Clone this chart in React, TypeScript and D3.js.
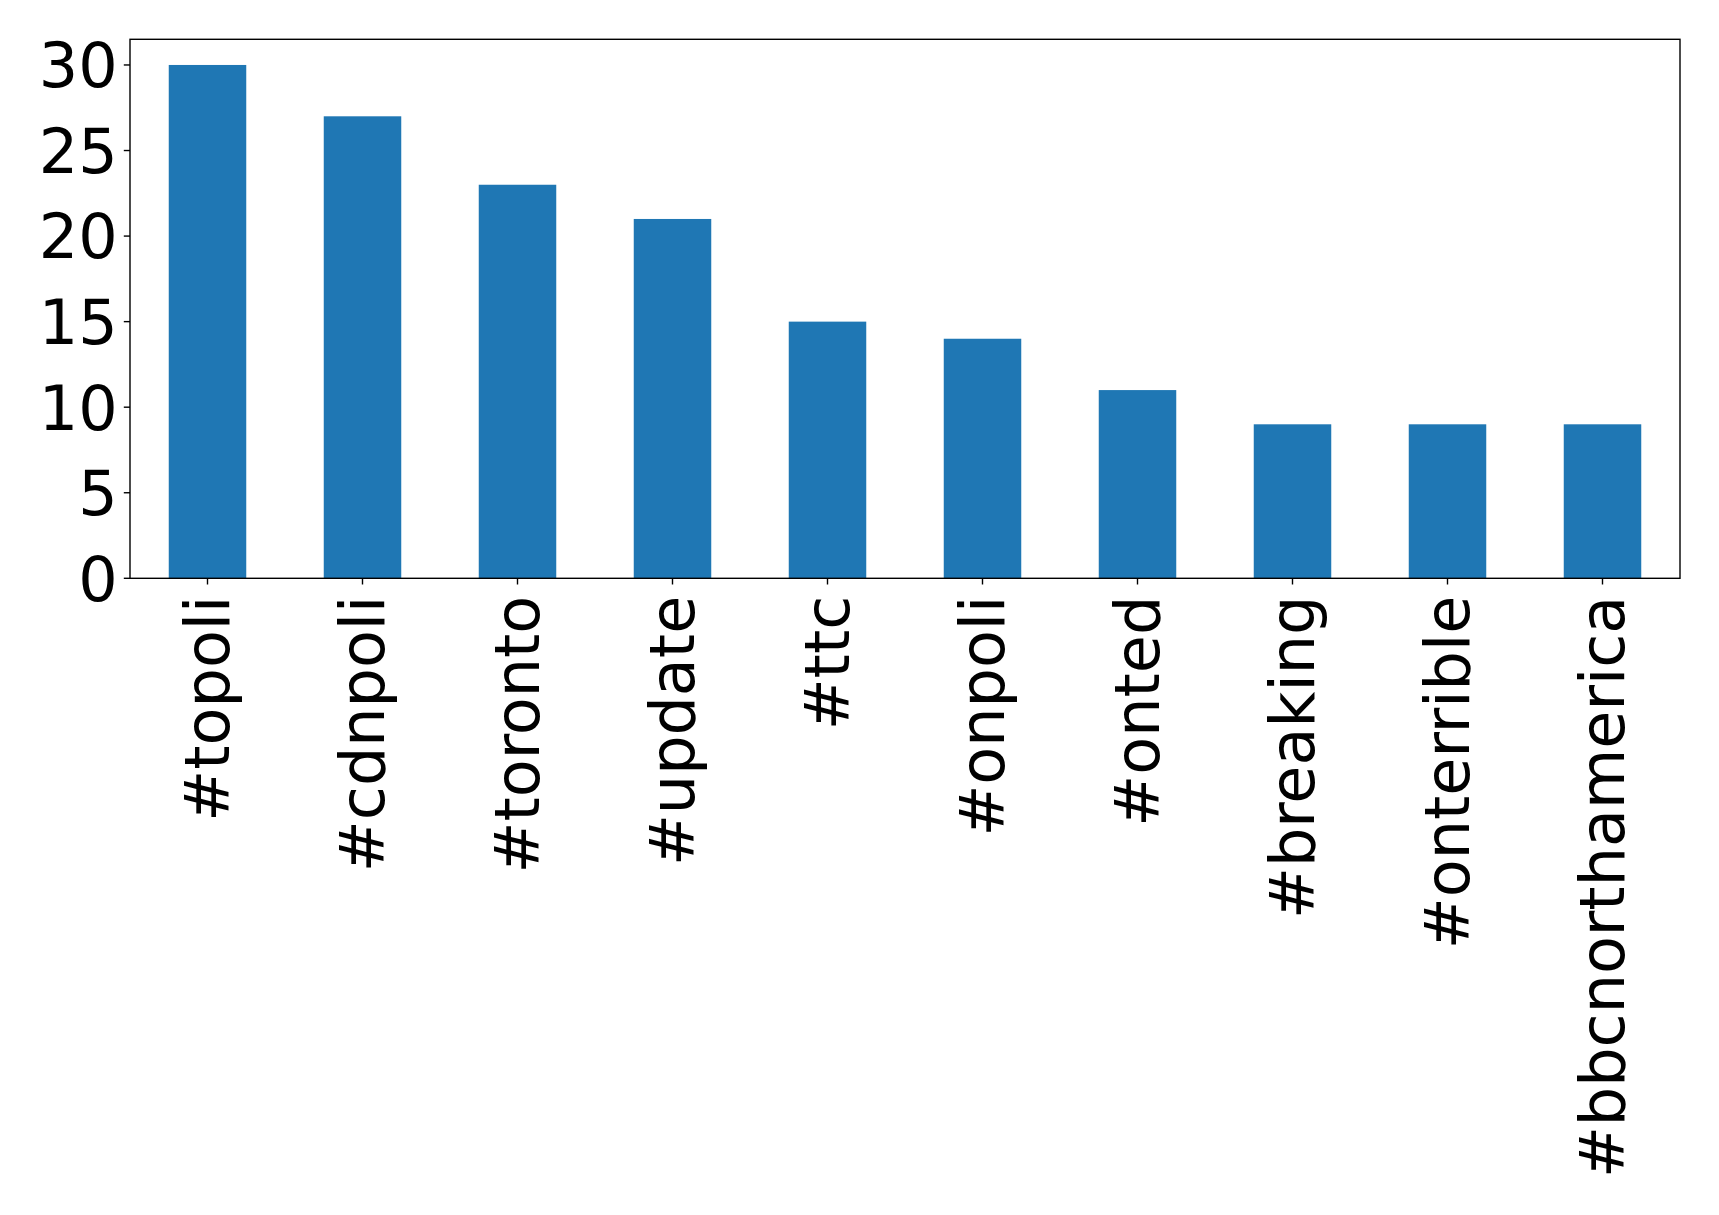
import React from "react";
import * as d3 from "d3";

const categories = ["#topoli", "#cdnpoli", "#toronto", "#update", "#ttc", "#onpoli", "#onted", "#breaking", "#onterrible", "#bbcnorthamerica"];
const counts = [30, 27, 23, 21, 15, 14, 11, 9, 9, 9];
const yTicks = [0, 5, 10, 15, 20, 25, 30];

const W = 1719;
const H = 1215;
const left = 130;
const right = 1680;
const top = 39.3;
const bottom = 578.3;
const fontSize = 62;
const font = "DejaVu Sans";

export default function App() {
  const x = d3.scaleLinear().domain([-0.5, categories.length - 0.5]).range([left, right]);
  const y = d3.scaleLinear().domain([0, 31.5]).range([bottom, top]);
  const bw = x(0.25) - x(-0.25);
  const tick = 6.2;
  const pad = 6.2;
  return (
    <svg width={W} height={H} style={{ position: "absolute", left: 0, top: 0, background: "#fff" }} fontFamily={font}>
      {counts.map((v, i) => (
        <rect key={i} x={x(i) - bw / 2} y={y(v)} width={bw} height={y(0) - y(v)} fill="#1f77b4" />
      ))}
      <rect x={left} y={top} width={right - left} height={bottom - top} fill="none" stroke="#000" strokeWidth={1.4} />
      {yTicks.map((t) => (
        <g key={t}>
          <line x1={left - tick} x2={left} y1={y(t)} y2={y(t)} stroke="#000" strokeWidth={1.4} />
          <text x={left - tick - pad} y={y(t)} dy="0.36em" textAnchor="end" fontSize={fontSize} fill="#000">{t}</text>
        </g>
      ))}
      {categories.map((c, i) => (
        <g key={c}>
          <line x1={x(i)} x2={x(i)} y1={bottom} y2={bottom + tick} stroke="#000" strokeWidth={1.4} />
          <text
            transform={`translate(${x(i)},${bottom + tick + pad + 5}) rotate(-90)`}
            textAnchor="end"
            dy="0.34em"
            fontSize={fontSize}
            fill="#000"
          >{c}</text>
        </g>
      ))}
    </svg>
  );
}
